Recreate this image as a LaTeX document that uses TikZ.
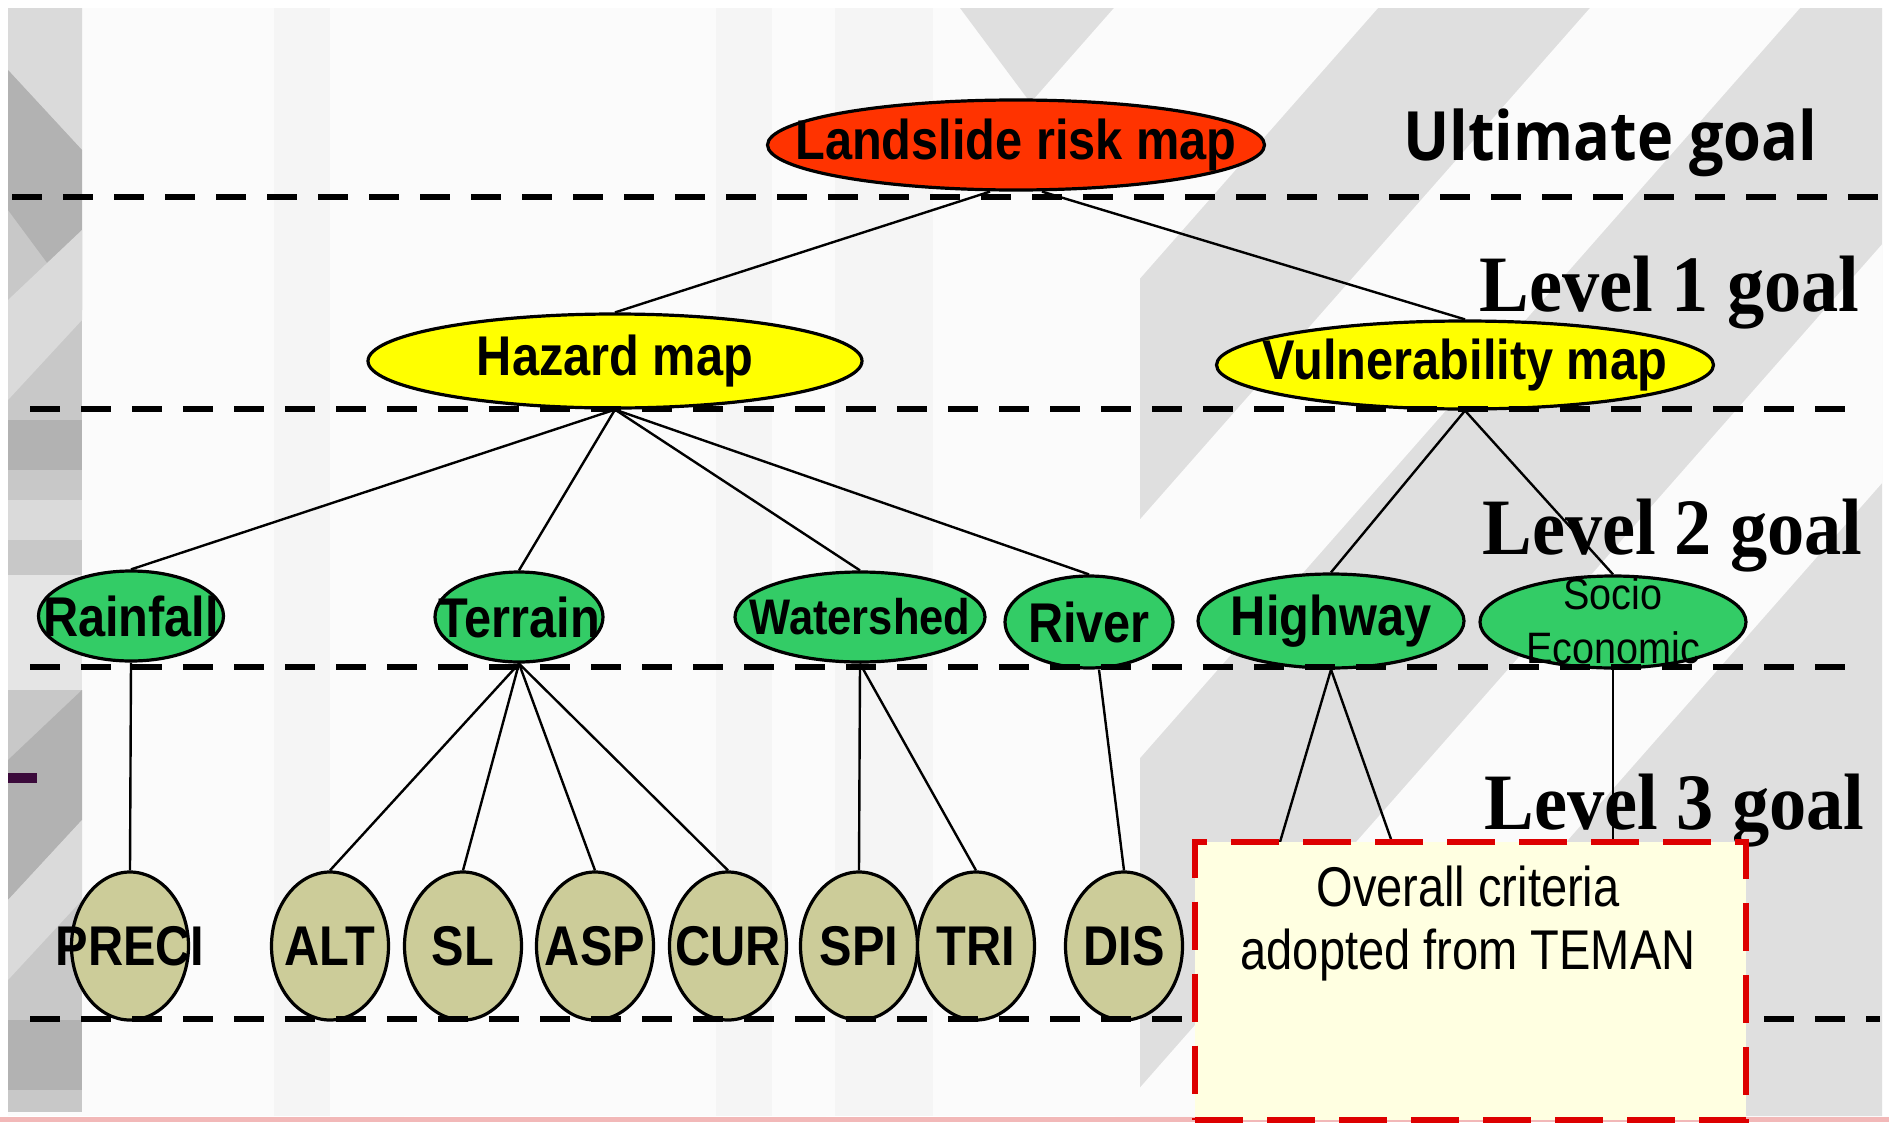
\documentclass[tikz,border=0pt]{standalone}
\usepackage{fontspec}
\setmainfont{Liberation Sans}
\newfontfamily\nodefont[FakeStretch=0.87]{Liberation Sans}
\newfontfamily\sociofont[FakeStretch=0.9]{Liberation Sans}
\newfontfamily\critfont[FakeStretch=0.84]{Liberation Sans}
\newfontfamily\goalfont[FakeStretch=0.9]{Open Sans}
\newfontfamily\levelfont[FakeStretch=0.93]{Liberation Serif}
\usetikzlibrary{shapes.geometric}

\definecolor{riskred}{HTML}{FF3300}
\definecolor{mapyellow}{HTML}{FFFF00}
\definecolor{critgreen}{HTML}{33CC66}
\definecolor{leafkhaki}{HTML}{CCCC99}
\definecolor{notefill}{HTML}{FFFFE1}
\definecolor{notered}{HTML}{DD0000}
\definecolor{bgbase}{HTML}{FBFBFB}
\definecolor{bgstripe}{HTML}{F5F5F5}
\definecolor{bggray}{HTML}{DFDFDF}
\definecolor{bgwhite}{HTML}{FBFBFB}
\definecolor{edgegray}{HTML}{C8C8C8}
\definecolor{edgedark}{HTML}{B2B2B2}
\definecolor{edgelight}{HTML}{DADADA}
\definecolor{markpurple}{HTML}{3B0A3B}
\definecolor{pinkline}{HTML}{F2B8B8}

% zero-width text box, so the ellipse size is set by its minimum size only
\newcommand\ctext[1]{\makebox[0pt]{#1}}

\begin{document}
\begin{tikzpicture}[x=0.5pt,y=-0.5pt,
  shp/.style={ellipse, draw=black, line width=1.6pt, inner sep=0pt, text=black},
  goalnode/.style={shp, fill=riskred, font=\nodefont\bfseries\fontsize{28}{32}\selectfont},
  mapnode/.style={shp, fill=mapyellow, font=\nodefont\bfseries\fontsize{28}{32}\selectfont},
  critnode/.style={shp, fill=critgreen, minimum height=45pt, font=\nodefont\bfseries\fontsize{28}{32}\selectfont},
  leafnode/.style={shp, fill=leafkhaki, minimum width=58.5pt, minimum height=74pt, font=\nodefont\bfseries\fontsize{28}{32}\selectfont},
  sociotext/.style={inner sep=0pt, align=center, font=\sociofont\fontsize{22}{27}\selectfont},
  notebox/.style={draw=notered, fill=notefill, line width=3pt, dash pattern=on 24pt off 12pt, minimum width=275.5pt, minimum height=139pt, inner sep=0pt},
  notetext/.style={inner sep=0pt, align=center, font=\critfont\fontsize{28}{31.5}\selectfont},
  ultlabel/.style={inner sep=0pt, anchor=base west, font=\goalfont\bfseries\fontsize{34}{40}\selectfont},
  levlabel/.style={inner sep=0pt, anchor=base west, font=\levelfont\bfseries\fontsize{40}{48}\selectfont},
  sepline/.style={line width=3.2pt, dash pattern=on 15pt off 10.5pt},
  conn/.style={line width=1.2pt},
]
\useasboundingbox (0,0) rectangle (1889,1124);

% ---------- slide template background ----------
\fill[white] (0,0) rectangle (1889,1124);
\fill[bgbase] (8,8) rectangle (1882,1116);

% grey panel with light slanted bands
\begin{scope}
  \clip (8,8) rectangle (1882,1116);
  \fill[bggray] (960,8) -- (1882,8) -- (1882,1116) -- (1140,1116) -- (1140,250) -- cycle;
  \fill[bgwhite] (1114,8) -- (1378,8) -- (403,1116) -- (139,1116) -- cycle;
  \fill[bgwhite] (1590,8) -- (1800,8) -- (825,1116) -- (615,1116) -- cycle;
  \fill[bgwhite] (2090,8) -- (2300,8) -- (1325,1116) -- (1115,1116) -- cycle;
\end{scope}
% faint vertical stripes
\foreach \a/\b in {274/330, 716/772, 835/933}{
  \fill[bgstripe] (\a,8) rectangle (\b,1116);
}

% grey edge strip on the left
\begin{scope}
  \clip (8,8) rectangle (82,1112);
  \fill[edgegray] (8,8) rectangle (82,1112);
  \fill[edgelight] (8,8) -- (82,8) -- (82,150) -- (8,70) -- cycle;
  \fill[edgedark] (8,70) -- (82,150) -- (82,310) -- (8,210) -- cycle;
  \fill[edgelight] (8,300) -- (82,230) -- (82,320) -- (8,400) -- cycle;
  \fill[edgedark] (8,420) rectangle (82,470);
  \fill[edgelight] (8,500) rectangle (82,540);
  \fill[edgelight!70!white] (8,575) rectangle (82,690);
  \fill[edgedark] (8,760) -- (82,690) -- (82,820) -- (8,900) -- cycle;
  \fill[edgelight] (8,900) -- (82,820) -- (82,900) -- (8,980) -- cycle;
  \fill[edgedark] (8,1020) rectangle (82,1090);
\end{scope}
\fill[markpurple] (8,773) rectangle (37,783);
\fill[pinkline] (0,1117) rectangle (1889,1122);

% ---------- hierarchy nodes ----------
\node[goalnode, minimum width=248.5pt, minimum height=45pt] (land) at (1016,145) {\ctext{Landslide risk map}};

\node[mapnode, minimum width=247pt, minimum height=47pt] (haz) at (615,361) {\ctext{Hazard map}};
\node[mapnode, minimum width=248.5pt, minimum height=44pt] (vul) at (1465,365) {\ctext{Vulnerability map}};

\node[critnode, minimum width=92.5pt] (rain) at (131,616) {\ctext{Rainfall}};
\node[critnode, minimum width=84pt] (terr) at (519,617) {\ctext{Terrain}};
\node[critnode, minimum width=125pt, font=\nodefont\bfseries\fontsize{25}{30}\selectfont] (wat) at (860,617) {\ctext{Watershed}};
\node[critnode, minimum width=84pt, minimum height=46pt] (riv) at (1089,622) {\ctext{River}};
\node[critnode, minimum width=133pt, minimum height=47pt] (hw) at (1331,621) {\ctext{Highway}};
\node[critnode, minimum width=133pt, minimum height=46pt] (soc) at (1613,622) {};
\node[sociotext] (soctext) at (1613,621) {Socio\\Economic};

\node[leafnode] (preci) at (130,946) {\ctext{PRECI}};
\node[leafnode] (alt)   at (330,946) {\ctext{ALT}};
\node[leafnode] (sl)    at (463,946) {\ctext{SL}};
\node[leafnode] (asp)   at (595,946) {\ctext{ASP}};
\node[leafnode] (cur)   at (728,946) {\ctext{CUR}};
\node[leafnode] (spi)   at (859,946) {\ctext{SPI}};
\node[leafnode] (tri)   at (976,946) {\ctext{TRI}};
\node[leafnode] (dis)   at (1124,946) {\ctext{DIS}};

% ---------- level captions ----------
\node[ultlabel] (ult) at (1403,160) {Ultimate goal};
\node[levlabel] (lev1) at (1479,311) {Level 1 goal};
\node[levlabel] (lev2) at (1482,554) {Level 2 goal};
\node[levlabel] (lev3) at (1484,829) {Level 3 goal};

% ---------- level separators ----------
\draw[sepline] (12,197) -- (1880,197);
\draw[sepline] (30,409) -- (1865,409);
\draw[sepline] (30,667) -- (1865,667);
\draw[sepline] (30,1019) -- (1880,1019);

% ---------- connectors ----------
\draw[conn] ([xshift=-13pt]land.south) -- (haz.north);
\draw[conn] ([xshift=13pt]land.south) -- (vul.north);

\foreach \c in {rain,terr,wat,riv}{ \draw[conn] (haz.south) -- (\c.north); }
\foreach \c in {hw,soc}{ \draw[conn] (vul.south) -- (\c.north); }

\draw[conn] (rain.south) -- (preci.north);
\foreach \c in {alt,sl,asp,cur}{ \draw[conn] (terr.south) -- (\c.north); }
\foreach \c in {spi,tri}{ \draw[conn] (wat.south) -- (\c.north); }
\draw[conn] ([xshift=5pt]riv.south) -- (dis.north);

\coordinate (noteA) at (1280,842);
\coordinate (noteB) at (1392,842);
\coordinate (noteC) at (1613,842);
\draw[conn] (hw.south) -- (noteA);
\draw[conn] (hw.south) -- (noteB);
\draw[conn] (soc.south) -- (noteC);

% ---------- criteria note ----------
\node[notebox] (note) at (1470.5,980.5) {};
\node[notetext] (notetxt) at (1468,924) {Overall criteria\\adopted from TEMAN};
\end{tikzpicture}
\end{document}
